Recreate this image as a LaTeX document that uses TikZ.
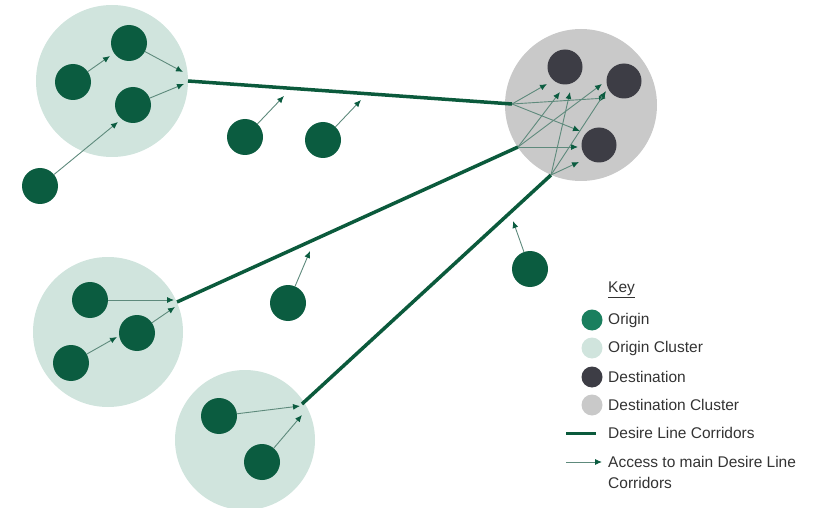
\documentclass[tikz,border=0pt]{standalone}
\usepackage{fontspec}
\setmainfont{Liberation Sans}
\usetikzlibrary{arrows.meta}
\definecolor{orig}{HTML}{0B5C40}
\definecolor{origkey}{HTML}{1A7F5E}
\definecolor{ocl}{HTML}{D0E4DD}
\definecolor{dest}{HTML}{3D3D45}
\definecolor{dcl}{HTML}{C9C9C9}
\definecolor{corr}{HTML}{0B5A3C}
\definecolor{acc}{HTML}{5E8A7C}
\definecolor{txt}{HTML}{333333}
\tikzset{
  origin/.style={circle,fill=orig,minimum size=36pt,inner sep=0pt},
  destn/.style={circle,fill=dest,minimum size=35pt,inner sep=0pt},
  ocluster/.style={circle,fill=ocl,inner sep=0pt},
  dcluster/.style={circle,fill=dcl,inner sep=0pt},
  corridor/.style={draw=corr,line width=3.5pt},
  access/.style={draw=acc,line width=0.9pt,-{Latex[length=7pt,width=6pt,fill=orig,color=orig]}},
  keytext/.style={anchor=west,text=txt,font=\fontsize{15.5}{21}\selectfont,inner sep=0pt}
}
\begin{document}
\begin{tikzpicture}[x=1pt,y=-1pt]
\useasboundingbox (0,0) rectangle (820,508);
% clusters
\node[ocluster,minimum size=152pt] (c1) at (112,81) {};
\node[ocluster,minimum size=150pt] (c2) at (108,332) {};
\node[ocluster,minimum size=140pt] (c3) at (245,440) {};
\node[dcluster,minimum size=152pt] (dc) at (581,105) {};
% corridor ends
\coordinate (s1) at (188,81);
\coordinate (e1) at (512,104);
\coordinate (s2) at (177,302);
\coordinate (e2) at (518,147);
\coordinate (s3) at (302,404);
\coordinate (e3) at (551,175);
\draw[corridor] (s1) -- (e1);
\draw[corridor] (s2) -- (e2);
\draw[corridor] (s3) -- (e3);
% destinations
\node[destn] (d1) at (565,67) {};
\node[destn] (d2) at (624,81) {};
\node[destn] (d3) at (599,145) {};
% access into destinations
\coordinate (t11) at (547,84);
\coordinate (t12) at (606,98);
\coordinate (t13) at (580,131);
\coordinate (t21) at (560,92);
\coordinate (t22) at (602,84);
\coordinate (t23) at (578,147);
\coordinate (t31) at (570,92);
\coordinate (t32) at (606,91);
\coordinate (t33) at (579,162);
\draw[access] (e1) -- (t11);
\draw[access] (e1) -- (t12);
\draw[access] (e1) -- (t13);
\draw[access] (e2) -- (t21);
\draw[access] (e2) -- (t22);
\draw[access] (e2) -- (t23);
\draw[access] (e3) -- (t31);
\draw[access] (e3) -- (t32);
\draw[access] (e3) -- (t33);
% origins cluster 1
\node[origin] (o1) at (73,82) {};
\node[origin] (o2) at (129,43) {};
\node[origin] (o3) at (133,105) {};
\node[origin] (o4) at (40,186) {};
\coordinate (a1) at (110,56);
\coordinate (a2) at (183,72);
\coordinate (a3) at (184,84);
\coordinate (a4) at (118,122);
\draw[access] (o1) -- (a1);
\draw[access] (o2) -- (a2);
\draw[access] (o3) -- (a3);
\draw[access] (o4) -- (a4);
% free origins
\node[origin] (o5) at (245,137) {};
\node[origin] (o6) at (323,140) {};
\node[origin] (o7) at (288,303) {};
\node[origin] (o8) at (530,269) {};
\coordinate (a5) at (284,96);
\coordinate (a6) at (361,100);
\coordinate (a7) at (310,251);
\coordinate (a8) at (513,221);
\draw[access] (o5) -- (a5);
\draw[access] (o6) -- (a6);
\draw[access] (o7) -- (a7);
\draw[access] (o8) -- (a8);
% cluster 2
\node[origin] (o9) at (90,300) {};
\node[origin] (o10) at (137,333) {};
\node[origin] (o11) at (71,363) {};
\coordinate (a9) at (174,300);
\coordinate (a10) at (175,307);
\coordinate (a11) at (117,337);
\draw[access] (o9) -- (a9);
\draw[access] (o10) -- (a10);
\draw[access] (o11) -- (a11);
% cluster 3
\node[origin] (o12) at (219,416) {};
\node[origin] (o13) at (262,462) {};
\coordinate (a12) at (300,406);
\coordinate (a13) at (302,415);
\draw[access] (o12) -- (a12);
\draw[access] (o13) -- (a13);
% key
\node[keytext] (kt) at (608,290) {\underline{Key}};
\node[circle,fill=origkey,minimum size=21pt,inner sep=0pt] (k1) at (592,320) {};
\node[circle,fill=ocl,minimum size=21pt,inner sep=0pt] (k2) at (592,348) {};
\node[circle,fill=dest,minimum size=21pt,inner sep=0pt] (k3) at (592,377) {};
\node[circle,fill=dcl,minimum size=21pt,inner sep=0pt] (k4) at (592,405) {};
\node[keytext] (kl1) at (608,320) {Origin};
\node[keytext] (kl2) at (608,348) {Origin Cluster};
\node[keytext] (kl3) at (608,377) {Destination};
\node[keytext] (kl4) at (608,405) {Destination Cluster};
\coordinate (kc1) at (566,433);
\coordinate (kc2) at (596,433);
\draw[corridor,line width=3pt] (kc1) -- (kc2);
\node[keytext] (kl5) at (608,433) {Desire Line Corridors};
\coordinate (ka1) at (566,462);
\coordinate (ka2) at (602,462);
\draw[access] (ka1) -- (ka2);
\node[keytext,align=left] (kl6) at (608,472.5) {Access to main Desire Line\\Corridors};
\end{tikzpicture}
\end{document}
